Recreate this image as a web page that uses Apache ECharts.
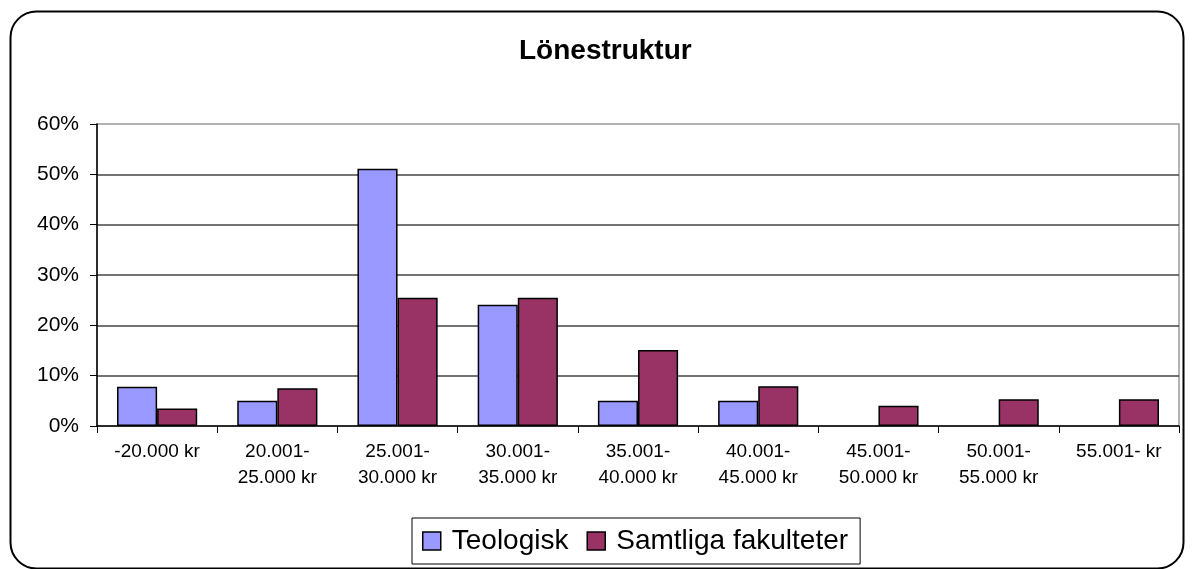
<!DOCTYPE html>
<html>
<head>
<meta charset="utf-8">
<script src="https://cdn.jsdelivr.net/npm/echarts@6/dist/echarts.min.js"></script>
<style>
  html, body { margin: 0; padding: 0; background: #fff; }
  #chart { width: 1194px; height: 569px; }
</style>
</head>
<body>
<div id="chart"></div>
<script>
// salary brackets
const categories = [
  "-20.000 kr",
  "20.001-\n25.000 kr",
  "25.001-\n30.000 kr",
  "30.001-\n35.000 kr",
  "35.001-\n40.000 kr",
  "40.001-\n45.000 kr",
  "45.001-\n50.000 kr",
  "50.001-\n55.000 kr",
  "55.001- kr"
];

// share in percent, null = no bar
const teologisk = [7.8, 5.0, 51.1, 24.1, 5.0, 5.0, null, null, null];
const samtliga = [3.5, 7.5, 25.5, 25.5, 15.1, 7.9, 4.0, 5.3, 5.3];

const yTicks = [0, 10, 20, 30, 40, 50, 60];

const chart = echarts.init(document.getElementById("chart"));

const font = "'Liberation Sans', Arial, sans-serif";

const option = {
  animation: false,
  textStyle: { fontFamily: font },
  graphic: [
    {
      type: "rect",
      shape: { x: 10.5, y: 11.5, width: 1173, height: 557, r: 26 },
      style: { fill: "none", stroke: "#000", lineWidth: 2 },
      silent: true
    }
  ],
  title: {
    text: "Lönestruktur",
    left: 514,
    top: 32,
    textStyle: { fontFamily: font, fontSize: 28, fontWeight: "bold", color: "#000" }
  },
  legend: {
    left: 412,
    top: 518,
    orient: "horizontal",
    itemWidth: 18,
    itemHeight: 18,
    itemGap: 18,
    icon: "rect",
    padding: [9, 12, 9, 10],
    borderColor: "#000",
    borderWidth: 1,
    textStyle: { fontFamily: font, fontSize: 28, color: "#000", padding: [0, 0, 0, 6] },
    itemStyle: { borderColor: "#000", borderWidth: 1.5 },
    data: ["Teologisk", "Samtliga fakulteter"]
  },
  grid: {
    left: 97,
    right: 15,
    top: 124,
    bottom: 143,
    show: true,
    borderColor: "#999",
    borderWidth: 1.5,
    containLabel: false
  },
  xAxis: {
    type: "category",
    data: categories,
    axisLine: { lineStyle: { color: "#000", width: 1.5 } },
    axisTick: { show: true, length: 7, lineStyle: { color: "#000" } },
    axisLabel: {
      interval: 0,
      fontFamily: font,
      fontSize: 19,
      lineHeight: 26,
      color: "#000",
      margin: 13
    }
  },
  yAxis: {
    type: "value",
    min: yTicks[0],
    max: yTicks[yTicks.length - 1],
    interval: 10,
    axisLine: { show: true, lineStyle: { color: "#000", width: 1.5 } },
    axisTick: { show: true, length: 7, lineStyle: { color: "#000" } },
    axisLabel: {
      formatter: "{value}%",
      fontFamily: font,
      fontSize: 21,
      color: "#000",
      margin: 18
    },
    splitLine: {
      show: true,
      showMinLine: false,
      showMaxLine: false,
      lineStyle: { color: "#444", width: 1.5 }
    }
  },
  series: [
    {
      name: "Teologisk",
      type: "bar",
      data: teologisk,
      barGap: "0%",
      barCategoryGap: "33.3%",
      itemStyle: { color: "#9999FF", borderColor: "#000", borderWidth: 1.5 }
    },
    {
      name: "Samtliga fakulteter",
      type: "bar",
      data: samtliga,
      barGap: "0%",
      barCategoryGap: "33.3%",
      itemStyle: { color: "#993366", borderColor: "#000", borderWidth: 1.5 }
    }
  ]
};

chart.setOption(option);
</script>
</body>
</html>
